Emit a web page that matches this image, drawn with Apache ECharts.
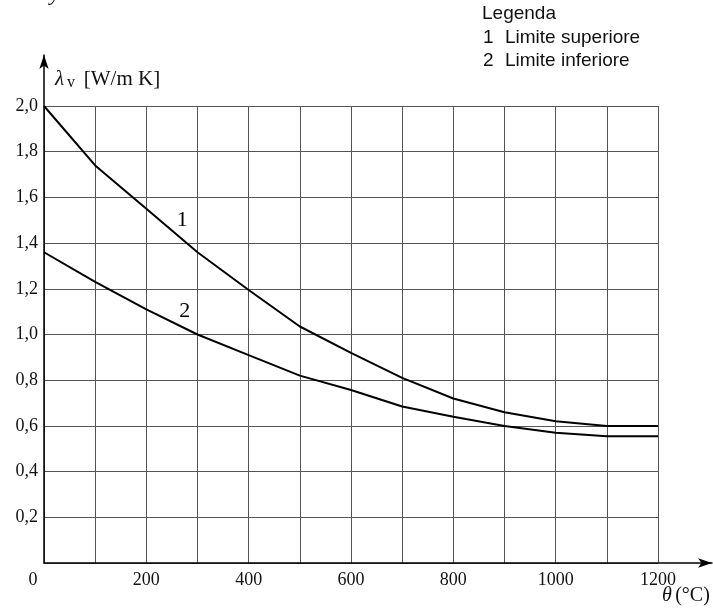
<!DOCTYPE html>
<html>
<head>
<meta charset="utf-8">
<script src="https://cdn.jsdelivr.net/npm/echarts@6/dist/echarts.min.js"></script>
<style>
  html, body { margin: 0; padding: 0; background: #fff; }
  #chart { width: 713px; height: 608px; }
</style>
</head>
<body>
<div id="chart"></div>
<script>
// temperatura (°C) e conduttività termica λv [W/m K]
const temps = [0, 100, 200, 300, 400, 500, 600, 700, 800, 900, 1000, 1100, 1200];
const upperLimit = [2.0, 1.74, 1.55, 1.36, 1.195, 1.035, 0.92, 0.81, 0.72, 0.66, 0.62, 0.60, 0.60];
const lowerLimit = [1.36, 1.23, 1.11, 1.0, 0.91, 0.82, 0.757, 0.685, 0.64, 0.60, 0.57, 0.555, 0.555];
const xTicks = [0, 200, 400, 600, 800, 1000, 1200];
const yTicks = [0.2, 0.4, 0.6, 0.8, 1.0, 1.2, 1.4, 1.6, 1.8, 2.0];
const legendItems = [["1", "Limite superiore"], ["2", "Limite inferiore"]];

const serif = "'Liberation Serif', 'DejaVu Serif', serif";
const sans = "'Liberation Sans', Arial, sans-serif";
const gridColor = "#555";

const chart = echarts.init(document.getElementById("chart"));

// etichetta della curva, piazzata in coordinate dati
function curveTag(text, x, y) {
    return {
        symbol: "rect",
        symbolSize: 1,
        itemStyle: { color: "transparent" },
        label: { show: true, position: "inside", color: "#000", fontSize: 22, fontFamily: serif },
        data: [{ coord: [x, y], value: text }],
    };
}

const legendFont = "19px " + sans;
const legendGraphics = [
    { type: "text", left: 482, top: 4, style: { text: "Legenda", font: legendFont, fill: "#111" } },
];
legendItems.forEach((item, i) => {
    legendGraphics.push({ type: "text", left: 483, top: 28 + i * 23, style: { text: item[0], font: legendFont, fill: "#111" } });
    legendGraphics.push({ type: "text", left: 505, top: 28 + i * 23, style: { text: item[1], font: legendFont, fill: "#111" } });
});

const option = {
    backgroundColor: "#fff",
    animation: false,
    grid: [
        // area del grafico
        { left: 44, top: 106, width: 614, height: 457 },
        // solo per gli assi con freccia
        { left: 44, top: 55, right: 1, bottom: 45 },
    ],
    xAxis: [
        {
            gridIndex: 0,
            type: "value",
            min: 0,
            max: 1200,
            interval: 100,
            axisLine: { show: false },
            axisTick: { show: false },
            splitLine: { show: true, lineStyle: { color: gridColor, width: 1 } },
            axisLabel: {
                margin: 8,
                color: "#111",
                fontSize: 18,
                fontFamily: serif,
                formatter: (v) => {
                    if (!xTicks.includes(v)) return "";
                    if (v === 0) return "{o|0}";
                    return String(v);
                },
                rich: { o: { fontSize: 18, fontFamily: serif, color: "#111", padding: [0, 22, 0, 0] } },
            },
        },
        {
            gridIndex: 1,
            type: "value",
            min: 0,
            max: 1,
            axisLine: { show: true, symbol: ["none", "arrow"], symbolSize: [7, 14], lineStyle: { color: "#000", width: 1.5 } },
            axisTick: { show: false },
            axisLabel: { show: false },
            splitLine: { show: false },
        },
    ],
    yAxis: [
        {
            gridIndex: 0,
            type: "value",
            min: 0,
            max: 2.0,
            interval: 0.2,
            axisLine: { show: false },
            axisTick: { show: false },
            splitLine: { show: true, lineStyle: { color: gridColor, width: 1 } },
            axisLabel: {
                margin: 6,
                color: "#111",
                fontSize: 18,
                fontFamily: serif,
                formatter: (v) => {
                    const t = yTicks.find((k) => Math.abs(k - v) < 1e-6);
                    return t === undefined ? "" : t.toFixed(1).replace(".", ",");
                },
            },
        },
        {
            gridIndex: 1,
            type: "value",
            min: 0,
            max: 1,
            axisLine: { show: true, symbol: ["none", "arrow"], symbolSize: [7, 14], lineStyle: { color: "#000", width: 1.5 } },
            axisTick: { show: false },
            axisLabel: { show: false },
            splitLine: { show: false },
        },
    ],
    series: [
        {
            name: "Limite superiore",
            type: "line",
            xAxisIndex: 0,
            yAxisIndex: 0,
            data: temps.map((t, i) => [t, upperLimit[i]]),
            showSymbol: false,
            smooth: false,
            lineStyle: { color: "#000", width: 2 },
            markPoint: curveTag("1", 270, 1.5),
        },
        {
            name: "Limite inferiore",
            type: "line",
            xAxisIndex: 0,
            yAxisIndex: 0,
            data: temps.map((t, i) => [t, lowerLimit[i]]),
            showSymbol: false,
            smooth: false,
            lineStyle: { color: "#000", width: 2 },
            markPoint: curveTag("2", 275, 1.1),
        },
    ],
    graphic: [
        // frammento della didascalia tagliata in alto
        { type: "text", left: 50, top: -17, style: { text: "y", font: "italic 22px " + serif, fill: "#000" } },
        {
            type: "text",
            left: 55,
            top: 69,
            style: {
                text: "{l|λ}{s|v}  {t|[W/m K]}",
                rich: {
                    l: { font: "italic 21px " + serif, fill: "#111" },
                    s: { font: "16px " + serif, fill: "#111", padding: [6, 2, 0, 3] },
                    t: { font: "21px " + serif, fill: "#111" },
                },
            },
        },
        {
            type: "text",
            left: 662,
            top: 586,
            style: {
                text: "{a|θ} {b|(°C)}",
                rich: {
                    a: { font: "italic 20px " + serif, fill: "#111" },
                    b: { font: "20px " + serif, fill: "#111" },
                },
            },
        },
        ...legendGraphics,
    ],
};

chart.setOption(option);
window.addEventListener("resize", () => chart.resize());
</script>
</body>
</html>
